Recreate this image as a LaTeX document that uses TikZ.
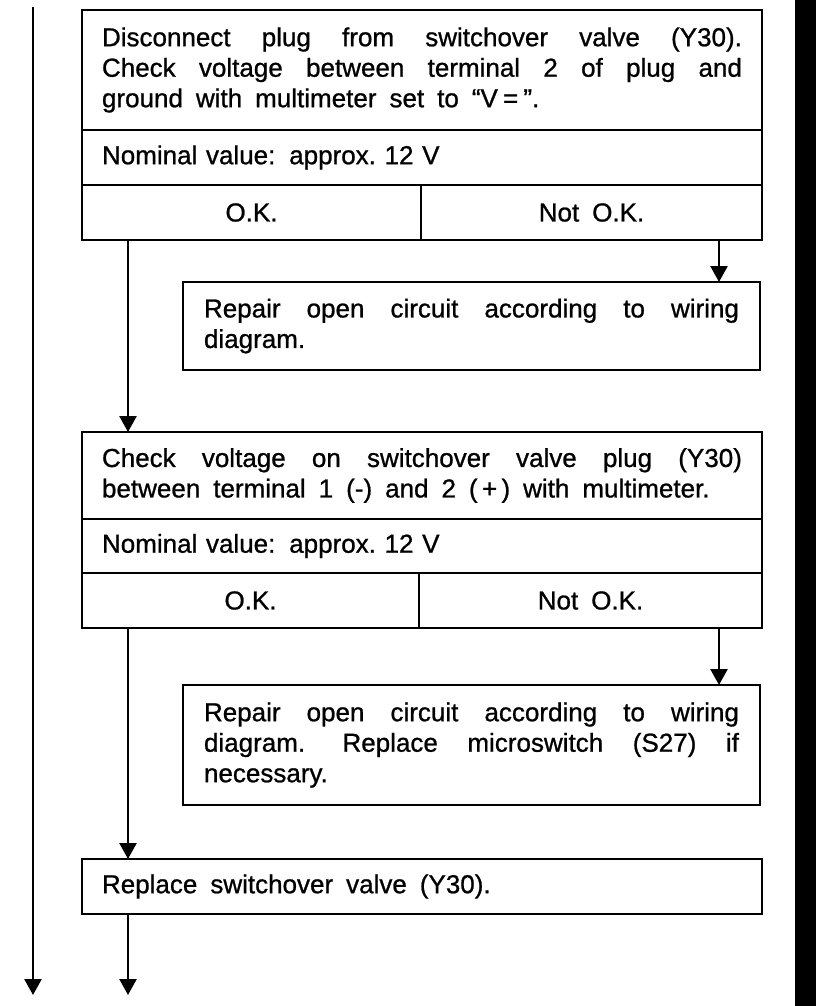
\documentclass[tikz,border=0pt]{standalone}
\usepackage{fontspec}
\setmainfont{Liberation Sans}[WordSpace=1.8, FakeBold=0.9]
\usetikzlibrary{arrows.meta}
\setlength{\parindent}{0pt}
\frenchspacing
\newcommand{\boxfont}{\fontsize{26}{30.5}\selectfont\frenchspacing}
\begin{document}
\begin{tikzpicture}[x=1pt,y=-1pt,
  ln/.style={line width=2.6pt},
  box/.style={draw, ln, rectangle, outer sep=0pt, anchor=north west, inner xsep=20pt, inner ysep=0pt, font=\boxfont},
  para/.style={box, text width=#1, align=justify},
  row/.style={box, text width=640pt, align=left, minimum height=#1},
  cell/.style={box, minimum width=#1, minimum height=55pt, align=center},
  arr/.style={ln, -{Triangle[width=17pt,length=16pt]}},
]
\useasboundingbox (0,0) rectangle (816,1006);
\fill (795,0) rectangle (816,1006);

% first test
\node[para=640pt, minimum height=120pt] (b1) at (82,10)
  {Disconnect plug from switchover valve (Y30).\linebreak Check voltage between terminal 2 of plug and\linebreak ground with multimeter set to “V\hspace{0.2em}=\hspace{0.2em}”.};
\node[row=55pt] (b1n) at (b1.south west) {Nominal value:\hspace{0.2em} approx. 12 V};
\node[cell=339pt] (b1ok) at (b1n.south west) {O.K.};
\node[cell=341pt] (b1nok) at (b1ok.north east) {Not O.K.};

\node[para=535pt, inner xsep=21pt, minimum height=88pt] (r1) at (183,282)
  {Repair open circuit according to wiring\linebreak diagram.};

% second test
\node[para=640pt, minimum height=87pt] (b3) at (82,432)
  {Check voltage on switchover valve plug (Y30)\linebreak between terminal 1 (-) and 2 (\,+\,) with multimeter.};
\node[row=54pt] (b3n) at (b3.south west) {Nominal value:\hspace{0.2em} approx. 12 V};
\node[cell=337pt] (b3ok) at (b3n.south west) {O.K.};
\node[cell=343pt] (b3nok) at (b3ok.north east) {Not O.K.};

\node[para=535pt, inner xsep=21pt, minimum height=120pt] (r2) at (183,685)
  {Repair open circuit according to wiring\linebreak diagram.\hspace{0.3em} Replace microswitch (S27) if\linebreak necessary.};

\node[para=640pt, minimum height=55pt] (b5) at (82,859) {Replace switchover valve (Y30).};

% connectors
\coordinate (okx) at (128,0);
\coordinate (nokx) at (719,0);
\coordinate (ltop) at (33,7);
\coordinate (lend) at (33,995);
\coordinate (bend) at (128,995);

\draw[arr] (ltop) -- (lend);
\draw[arr] (b1ok.south -| okx) -- (b3.north -| okx);
\draw[arr] (b1nok.south -| nokx) -- (r1.north -| nokx);
\draw[arr] (b3ok.south -| okx) -- (b5.north -| okx);
\draw[arr] (b3nok.south -| nokx) -- (r2.north -| nokx);
\draw[arr] (b5.south -| okx) -- (bend);
\end{tikzpicture}
\end{document}
